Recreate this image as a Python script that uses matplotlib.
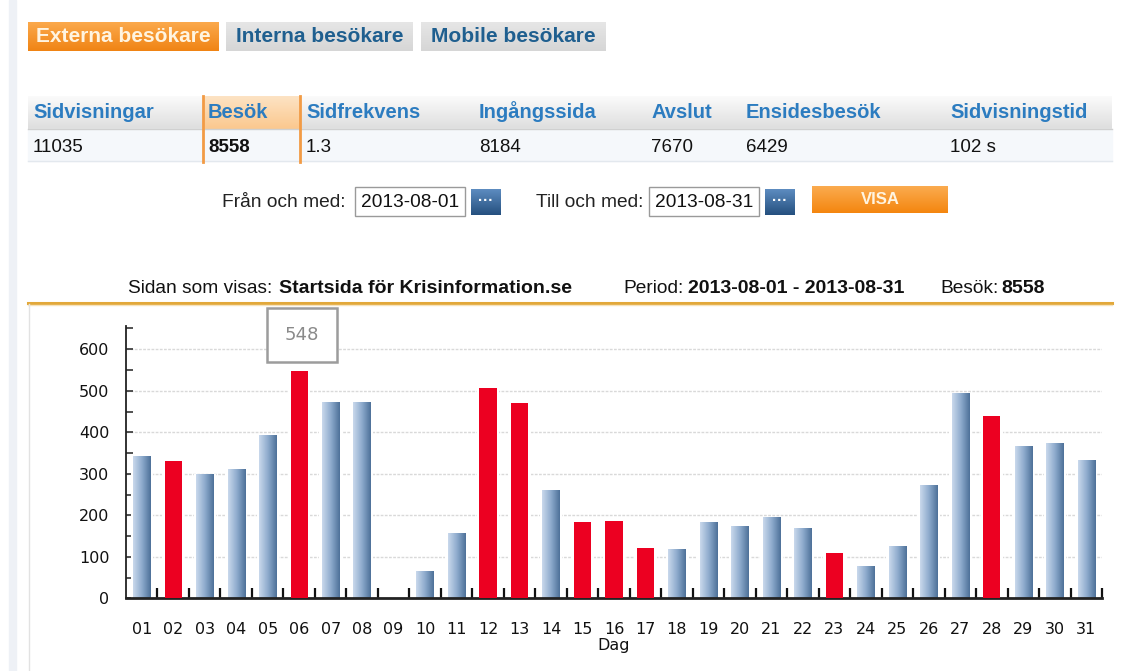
import numpy as np
import matplotlib
matplotlib.use("Agg")
import matplotlib.pyplot as plt
from matplotlib.colors import LinearSegmentedColormap, to_rgb
from matplotlib.patches import Rectangle

# --- data -------------------------------------------------------------
days = ["01", "02", "03", "04", "05", "06", "07", "08", "09", "10", "11",
        "12", "13", "14", "15", "16", "17", "18", "19", "20", "21", "22",
        "23", "24", "25", "26", "27", "28", "29", "30", "31"]
visits = [343, 330, 299, 312, 394, 548, 472, 472, 0, 65, 157, 507, 470, 261,
          183, 187, 122, 118, 183, 174, 196, 170, 109, 79, 126, 274, 495,
          439, 366, 373, 334]
red_days = ["02", "06", "12", "13", "15", "16", "17", "23", "28"]

tabs = ["Externa besökare", "Interna besökare", "Mobile besökare"]
col_heads = ["Sidvisningar", "Besök", "Sidfrekvens", "Ingångssida", "Avslut",
             "Ensidesbesök", "Sidvisningstid"]
col_vals = ["11035", "8558", "1.3", "8184", "7670", "6429", "102 s"]
date_from = "2013-08-01"
date_to = "2013-08-31"
page_name = "Startsida för Krisinformation.se"
total_visits = "8558"
tooltip_day = "06"

W, H = 1129, 671
fig = plt.figure(figsize=(W / 100, H / 100), dpi=100)
fig.patch.set_facecolor("white")

# page canvas in pixel coords
pg = fig.add_axes([0, 0, 1, 1])
pg.set_zorder(0)
pg.axis("off")
PAGE_FONT = "Liberation Sans"


def grad_rect(x0, y0, x1, y1, c_top, c_bot, z=1):
    g = np.linspace(0, 1, 64)[:, None, None]
    a, b = np.array(to_rgb(c_top)), np.array(to_rgb(c_bot))
    img = a * (1 - g) + b * g
    pg.imshow(img, extent=[x0, x1, y1, y0], aspect="auto", zorder=z,
              interpolation="bilinear")


# left strip
pg.add_patch(Rectangle((9, 0), 7, H, color="#eef1f6", zorder=0))

# tabs
tab_x = [(28, 219), (226, 413), (421, 606)]
for i, (lab, (x0, x1)) in enumerate(zip(tabs, tab_x)):
    if i == 0:
        grad_rect(x0, 22, x1, 51, "#fba94c", "#f08414")
        tc = "#fff4e0"
    else:
        grad_rect(x0, 22, x1, 51, "#e6e6e6", "#d6d6d6")
        tc = "#1f5f8f"
    pg.text((x0 + x1) / 2, 42, lab, ha="center", va="baseline", color=tc,
            fontsize=15, fontweight="bold", family=PAGE_FONT, zorder=3)

# stats table
grad_rect(28, 96, 1112, 129, "#fbfbfb", "#dedede")
grad_rect(203, 96, 300, 129, "#fde3c4", "#fbc88e", z=2)
pg.add_patch(Rectangle((28, 129), 1084, 32, color="#f5f8fb", zorder=1))
pg.plot([28, 1112], [129, 129], color="#d0d0d0", lw=1, zorder=2)
pg.plot([28, 1112], [161, 161], color="#e3e8ee", lw=1, zorder=2)
for xv in (203, 300):
    pg.plot([xv, xv], [96, 162], color="#f29b45", lw=2, zorder=3)
col_x = [33, 208, 306, 479, 651, 746, 950]
for i, (h, v, x) in enumerate(zip(col_heads, col_vals, col_x)):
    pg.text(x, 118.5, h, ha="left", va="baseline", color="#2c7cc0",
            fontsize=14.5, fontweight="bold", family=PAGE_FONT, zorder=4)
    pg.text(x, 151.5, v, ha="left", va="baseline", color="#111111",
            fontsize=13.5, fontweight="bold" if i == 1 else "normal",
            family=PAGE_FONT, zorder=4)

# date pickers
for lab, xl, xb, val in [("Från och med:", 222, 355, date_from),
                         ("Till och med:", 536, 649, date_to)]:
    pg.text(xl, 207, lab, ha="left", va="baseline", color="#222222",
            fontsize=13.8, family=PAGE_FONT)
    pg.add_patch(Rectangle((xb, 187), 110, 29, fc="white", ec="#9a9a9a",
                           lw=1, zorder=2))
    pg.text(xb + 6, 207, val, ha="left", va="baseline", color="#111111",
            fontsize=13.8, family=PAGE_FONT, zorder=3)
    bx = xb + 116
    grad_rect(bx, 189, bx + 30, 215, "#5d8cc0", "#25507f", z=2)
    pg.text(bx + 15, 201, "···", ha="center", va="center", color="white",
            fontsize=11, fontweight="bold", family=PAGE_FONT, zorder=3)
grad_rect(812, 186, 948, 213, "#fbab4f", "#f4860f", z=2)
pg.text(880, 199.5, "VISA", ha="center", va="center", color="#fff4e0",
        fontsize=12, fontweight="bold", family=PAGE_FONT, zorder=3)

# chart header
hy = 293
hdr = [(128, "Sidan som visas:", "normal"), (279, page_name, "bold"),
       (623, "Period:", "normal"), (688, f"{date_from} - {date_to}", "bold"),
       (940, "Besök:", "normal"), (1001, total_visits, "bold")]
for hx, txt, wt in hdr:
    pg.text(hx, hy, txt, ha="left", va="baseline", color="#111111",
            fontsize=14 if wt == "bold" else 13.8, fontweight=wt,
            family=PAGE_FONT)
pg.plot([28, 1112], [302.5, 302.5], color="#e2a83a", lw=2.2, zorder=2)
pg.plot([28, 1112], [305, 305], color="#f6e3bd", lw=1, zorder=2)
pg.plot([28.5, 28.5], [304, H], color="#e2e2e2", lw=1, zorder=2)

pg.set_xlim(0, W)
pg.set_ylim(H, 0)

# --- bar chart --------------------------------------------------------
ax = fig.add_axes([126 / W, (H - 598.3) / H, (1102 - 126) / W, (598.3 - 326) / H])
ax.set_zorder(2)
ax.patch.set_alpha(0)

x = np.arange(len(days))
bw = 0.55

ax.set_yticks(range(0, 601, 100))
ax.set_yticks(range(50, 651, 50), minor=True)
ax.yaxis.grid(True, which="major", color="#d9d9d9", lw=1, ls=(0, (2, 1)),
              zorder=0)
ax.set_axisbelow(True)

# white halo so gridlines stop short of bars
ax.bar(x, visits, width=bw + 0.16, color="white", zorder=1)

blue_cmap = LinearSegmentedColormap.from_list("bl", ["#c9d9ec", "#8eabcd", "#4e7199"])
grad = np.linspace(0, 1, 64)[None, :]
for d, xi, v in zip(days, x, visits):
    if v <= 0:
        continue
    if d in red_days:
        ax.bar(xi, v, width=bw, color="#ec0021", zorder=3)
    else:
        bars = ax.bar(xi, v, width=bw, color="none", zorder=3)
        im = ax.imshow(grad, cmap=blue_cmap, aspect="auto", zorder=2.5,
                       extent=[xi - bw / 2, xi + bw / 2, 0, v],
                       interpolation="bilinear")
        im.set_clip_path(bars[0])
ax.set_xlim(-0.5, len(days) - 0.5)
ax.set_ylim(0, 656)

ax.set_xticks(x)
ax.set_xticklabels(days)
ax.set_xticks(list(x + 0.5), minor=True)
ax.tick_params(axis="x", which="major", length=0, pad=17, labelsize=11.5,
               colors="#111111")
ax.tick_params(axis="x", which="minor", direction="in", length=7, width=1.6,
               color="#111111")
ax.tick_params(axis="y", which="both", direction="in", length=5, width=1.2,
               color="#333333")
ax.tick_params(axis="y", which="major", pad=12, labelsize=11.5,
               labelcolor="#111111")
ax.set_xlabel("Dag", fontsize=11.5, labelpad=1, color="#111111")

for s in ("top", "right"):
    ax.spines[s].set_visible(False)
ax.spines["left"].set_color("#222222")
ax.spines["left"].set_linewidth(1.3)
ax.spines["bottom"].set_color("#222222")
ax.spines["bottom"].set_linewidth(2)

# tooltip box over the peak day
ti = days.index(tooltip_day)
ax.annotate(str(visits[ti]), xy=(ti, visits[ti]), xytext=(2, 26),
            textcoords="offset points", ha="center", va="center",
            fontsize=13, color="#8a8a8a", annotation_clip=False, zorder=5,
            bbox=dict(boxstyle="square,pad=1.0", fc="white", ec="#9c9c9c",
                      lw=1.8))

fig.savefig("out.png", dpi=100, facecolor="white")
